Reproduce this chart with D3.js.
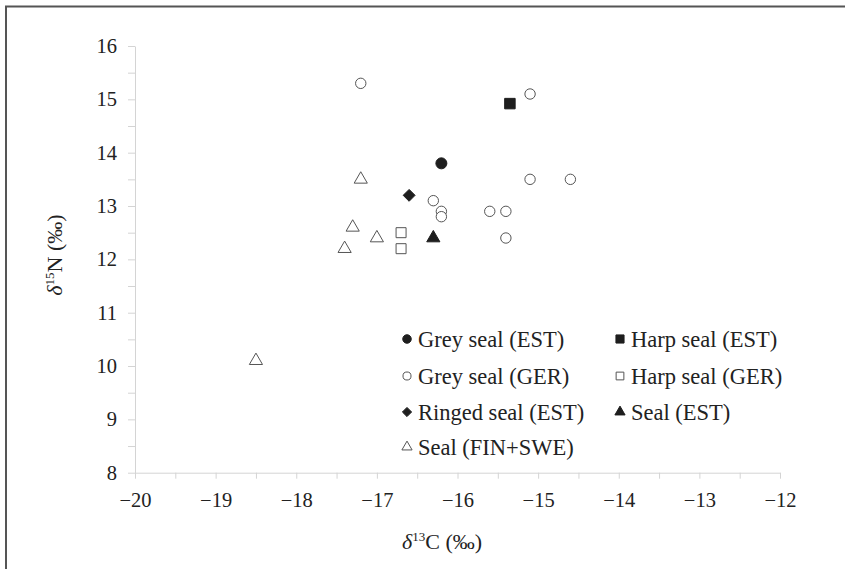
<!DOCTYPE html>
<html>
<head>
<meta charset="utf-8">
<script src="https://cdn.jsdelivr.net/npm/d3@7"></script>
<style>
  body { margin: 0; background: #fff; }
  svg { display: block; }
</style>
</head>
<body>
<svg class="canvas"></svg>
<script>
// values
const greyEstX = [-16.2];
const greyEstY = [13.8];
const harpEstX = [-15.35];
const harpEstY = [14.92];
const greyGerX = [-17.2, -15.1, -15.1, -14.6, -16.3, -16.2, -16.2, -15.6, -15.4, -15.4];
const greyGerY = [15.3, 15.1, 13.5, 13.5, 13.1, 12.9, 12.8, 12.9, 12.9, 12.4];
const harpGerX = [-16.7, -16.7];
const harpGerY = [12.5, 12.2];
const ringedEstX = [-16.6];
const ringedEstY = [13.2];
const sealEstX = [-16.3];
const sealEstY = [12.4];
const sealFinSweX = [-17.2, -17.3, -17.0, -17.4, -18.5];
const sealFinSweY = [13.5, 12.6, 12.4, 12.2, 10.1];

const w = 845;
const h = 569;
const serif = "'Liberation Serif', 'Times New Roman', serif";
const ink = "#222";

const svg = d3.select("svg.canvas")
    .attr("width", w)
    .attr("height", h);

// frame (only top and left edges show in the picture)
svg.append("path")
    .attr("d", "M6,569 V6.5 H845")
    .attr("fill", "none")
    .attr("stroke", "#555")
    .attr("stroke-width", 2);

const xScale = d3.scaleLinear().domain([-20, -12]).range([135, 780]);
const yScale = d3.scaleLinear().domain([8, 16]).range([472.7, 46]);

const halfSteps = (lo, hi) => d3.range(lo * 2, hi * 2 + 1).map(v => v / 2);

const fmt = v => Number.isInteger(v) ? (v < 0 ? "\u2212" + Math.abs(v) : String(v)) : "";

const xAxis = d3.axisBottom(xScale)
    .tickValues(halfSteps(-20, -12))
    .tickSize(6)
    .tickPadding(14)
    .tickSizeOuter(0)
    .tickFormat(fmt);

const yAxis = d3.axisLeft(yScale)
    .tickValues(halfSteps(8, 16))
    .tickSize(7)
    .tickPadding(11)
    .tickSizeOuter(0)
    .tickFormat(fmt);

const gx = svg.append("g")
    .attr("transform", "translate(0," + yScale(8) + ")")
    .call(xAxis);

const gy = svg.append("g")
    .attr("transform", "translate(" + xScale(-20) + ",0)")
    .call(yAxis);

[gx, gy].forEach(g => {
    g.attr("font-family", serif).attr("font-size", 20.5);
    g.select(".domain").attr("stroke", "#d4d4d4");
    g.selectAll(".tick line").attr("stroke", "#d4d4d4");
    g.selectAll(".tick text").attr("fill", ink);
});

// axis titles
const xt = svg.append("text")
    .attr("x", 442)
    .attr("y", 549)
    .attr("text-anchor", "middle")
    .attr("fill", ink)
    .attr("font-family", serif)
    .attr("font-size", 22);
xt.append("tspan").attr("font-style", "italic").text("\u03b4");
xt.append("tspan").attr("dy", -8).attr("font-size", 13).text("13");
xt.append("tspan").attr("dy", 8).text("C (\u2030)");

const yt = svg.append("text")
    .attr("transform", "translate(62,255) rotate(-90)")
    .attr("text-anchor", "middle")
    .attr("fill", ink)
    .attr("font-family", serif)
    .attr("font-size", 22);
yt.append("tspan").attr("font-style", "italic").text("\u03b4");
yt.append("tspan").attr("dy", -8).attr("font-size", 13).text("15");
yt.append("tspan").attr("dy", 8).text("N (\u2030)");

// series
const series = [
    { name: "Grey seal (EST)", xs: greyEstX, ys: greyEstY, type: d3.symbolCircle, size: 95, filled: true },
    { name: "Harp seal (EST)", xs: harpEstX, ys: harpEstY, type: d3.symbolSquare, size: 110, filled: true },
    { name: "Grey seal (GER)", xs: greyGerX, ys: greyGerY, type: d3.symbolCircle, size: 85, filled: false },
    { name: "Harp seal (GER)", xs: harpGerX, ys: harpGerY, type: d3.symbolSquare, size: 100, filled: false },
    { name: "Ringed seal (EST)", xs: ringedEstX, ys: ringedEstY, type: d3.symbolDiamond2, size: 90, filled: true },
    { name: "Seal (EST)", xs: sealEstX, ys: sealEstY, type: d3.symbolTriangle, size: 75, filled: true },
    { name: "Seal (FIN+SWE)", xs: sealFinSweX, ys: sealFinSweY, type: d3.symbolTriangle, size: 75, filled: false }
];

const drawSym = (g, s, size) => g
    .attr("d", d3.symbol().type(s.type).size(size))
    .attr("fill", s.filled ? "#1e1e1e" : "#fff")
    .attr("stroke", s.filled ? "#1e1e1e" : "#555")
    .attr("stroke-width", 1);

series.forEach(s => {
    const pts = s.xs.map((x, i) => [x, s.ys[i]]);
    drawSym(svg.append("g").selectAll("path")
        .data(pts)
        .enter()
        .append("path")
        .attr("transform", d => "translate(" + xScale(d[0]) + "," + yScale(d[1]) + ")"), s, s.size);
});

// legend
const legRowY = [339, 376, 412, 447];
const legColX = [407, 620];

series.forEach((s, i) => {
    const col = i % 2;
    const row = Math.floor(i / 2);
    const g = svg.append("g")
        .attr("transform", "translate(" + legColX[col] + "," + legRowY[row] + ")");
    drawSym(g.append("path"), s, s.size * 0.6);
    g.append("text")
        .attr("x", 11)
        .attr("dy", "0.34em")
        .attr("fill", ink)
        .attr("font-family", serif)
        .attr("font-size", 22.5)
        .text(s.name);
});
</script>
</body>
</html>
